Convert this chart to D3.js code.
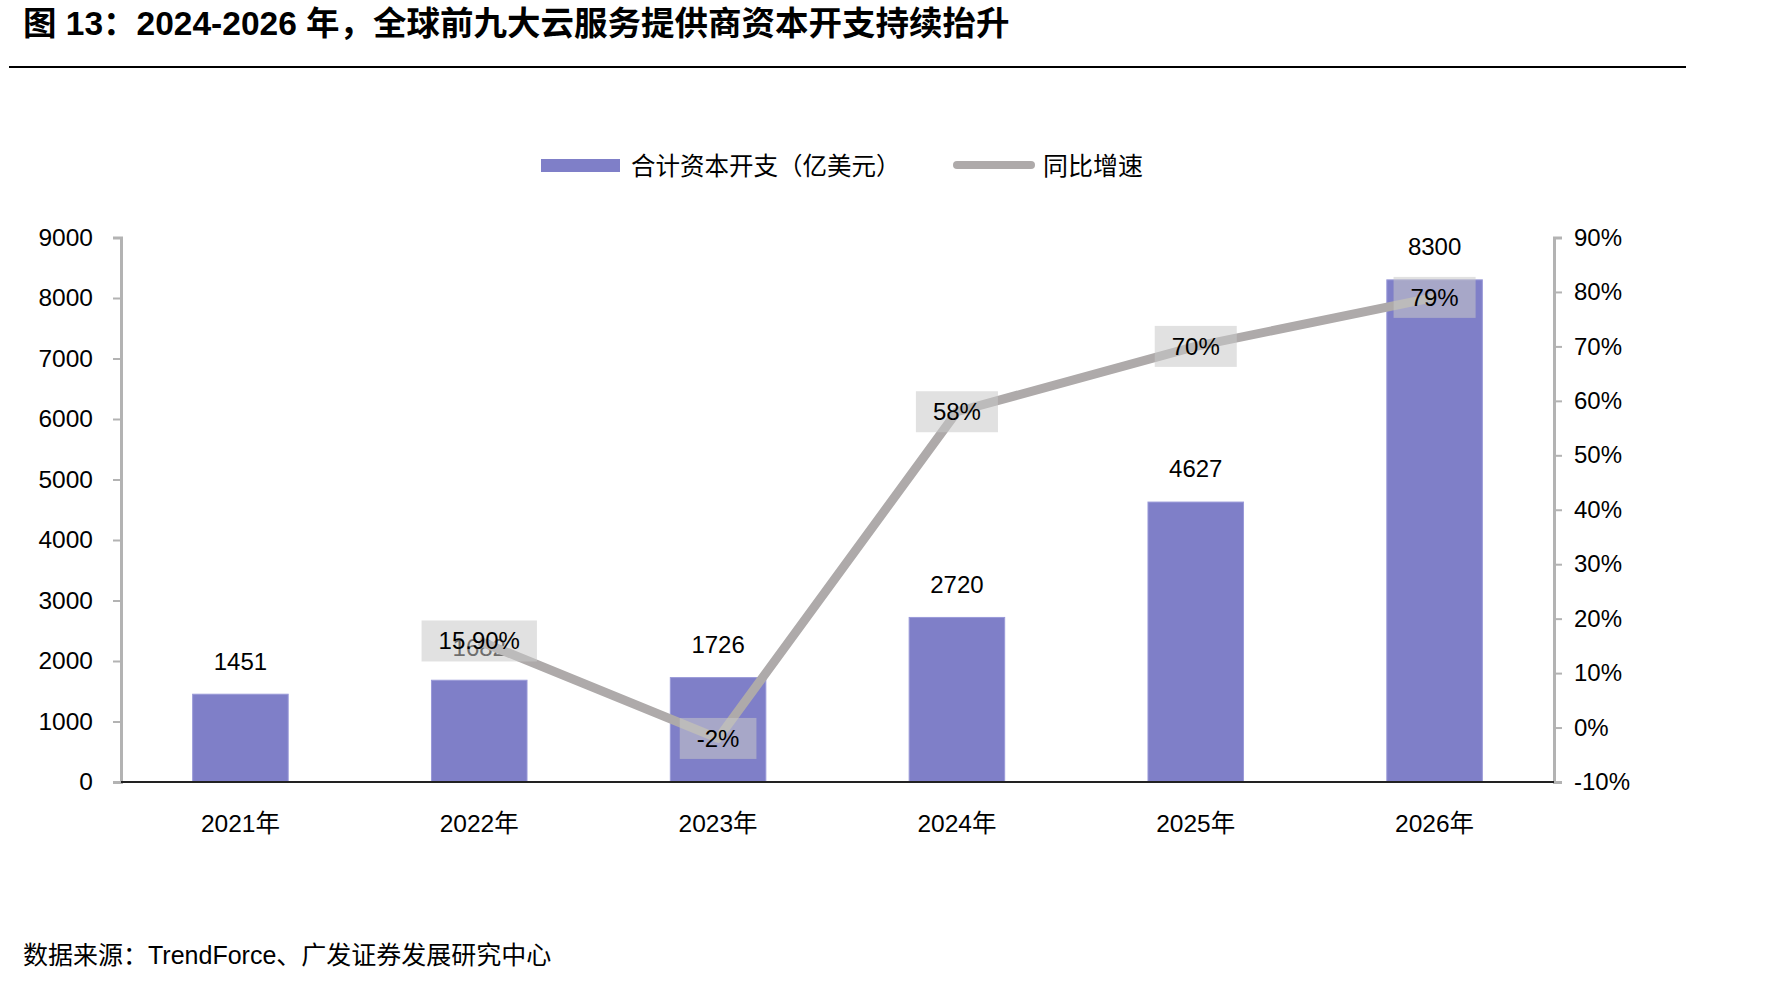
<!DOCTYPE html>
<html>
<head>
<meta charset="utf-8">
<script src="https://cdn.jsdelivr.net/npm/d3@7"></script>
<style>
	body { margin: 0; background: #fff; }
	svg text { font-family: "Liberation Sans", "Noto Sans CJK SC", sans-serif; fill: #000; }
</style>
</head>
<body>
<div id="chart"></div>
<script>
// data
var years = ["2021年", "2022年", "2023年", "2024年", "2025年", "2026年"];
var capex = [1451, 1682, 1726, 2720, 4627, 8300];
var growthYears = ["2022年", "2023年", "2024年", "2025年", "2026年"];
var growth = [0.159, -0.02, 0.58, 0.70, 0.79];
var growthLabels = ["15.90%", "-2%", "58%", "70%", "79%"];
var leftTicks = [0, 1000, 2000, 3000, 4000, 5000, 6000, 7000, 8000, 9000];
var rightTicks = [-0.1, 0, 0.1, 0.2, 0.3, 0.4, 0.5, 0.6, 0.7, 0.8, 0.9];

function draw_chart() {
	var w = 1790;
	var h = 985;
	var barColor = "#7f7fc8";
	var lineColor = "#aeaaaa";
	var axisColor = "#b3b3b3";

	var svg = d3.select("#chart")
				.append("svg")
				.attr("width", w)
				.attr("height", h);

	// title + rule
	svg.append("text")
		.attr("x", 23)
		.attr("y", 35)
		.attr("font-size", 33.5)
		.attr("font-weight", "bold")
		.text("图 13：2024-2026 年，全球前九大云服务提供商资本开支持续抬升");
	svg.append("line")
		.attr("x1", 9).attr("x2", 1686)
		.attr("y1", 67).attr("y2", 67)
		.attr("stroke", "#000")
		.attr("stroke-width", 2);

	var pLeft = 121, pRight = 1554, pTop = 237.5, pBottom = 782;

	var x = d3.scaleBand()
			  .domain(years)
			  .range([pLeft, pRight])
			  .paddingInner(0.6)
			  .paddingOuter(0.3);
	var y = d3.scaleLinear()
			  .domain([0, 9000])
			  .range([pBottom, pTop]);
	var y2 = d3.scaleLinear()
			   .domain([-0.1, 0.9])
			   .range([pBottom, pTop]);

	// left axis
	var yAxis = d3.axisLeft(y).tickValues(leftTicks).tickSize(8).tickPadding(20)
				  .tickFormat(d3.format("d"));
	var gy = svg.append("g")
		.attr("transform", "translate(" + pLeft + ",0)")
		.call(yAxis);
	gy.select(".domain").attr("stroke", axisColor).attr("stroke-width", 3);
	gy.selectAll(".tick line").attr("stroke", axisColor).attr("stroke-width", 2);
	gy.selectAll(".tick text").attr("font-size", 24.5).attr("fill", "#000");

	// right axis
	var yAxis2 = d3.axisRight(y2).tickValues(rightTicks).tickSize(8).tickPadding(12)
				   .tickFormat(d => Math.round(d * 100) + "%");
	var gy2 = svg.append("g")
		.attr("transform", "translate(" + pRight + ",0)")
		.call(yAxis2);
	gy2.select(".domain").attr("stroke", axisColor).attr("stroke-width", 3);
	gy2.selectAll(".tick line").attr("stroke", axisColor).attr("stroke-width", 2);
	gy2.selectAll(".tick text").attr("font-size", 24).attr("fill", "#000");

	// bars
	svg.selectAll("rect.bar")
		.data(capex)
		.enter()
		.append("rect")
		.attr("class", "bar")
		.attr("x", (d, i) => x(years[i]))
		.attr("width", x.bandwidth())
		.attr("y", d => y(d))
		.attr("height", d => pBottom - y(d))
		.attr("fill", barColor)
		.attr("stroke", "#9a9ad8")
		.attr("stroke-width", 1);

	svg.selectAll("text.barlabel")
		.data(capex)
		.enter()
		.append("text")
		.attr("class", "barlabel")
		.attr("x", (d, i) => x(years[i]) + x.bandwidth() / 2)
		.attr("y", d => y(d) - 33)
		.attr("dy", "0.35em")
		.attr("text-anchor", "middle")
		.attr("font-size", 24)
		.text(d => d);

	// x axis baseline + labels
	svg.append("line")
		.attr("x1", pLeft).attr("x2", pRight)
		.attr("y1", pBottom).attr("y2", pBottom)
		.attr("stroke", "#222")
		.attr("stroke-width", 2);
	svg.selectAll("text.xlabel")
		.data(years)
		.enter()
		.append("text")
		.attr("class", "xlabel")
		.attr("x", d => x(d) + x.bandwidth() / 2)
		.attr("y", 823)
		.attr("dy", "0.35em")
		.attr("text-anchor", "middle")
		.attr("font-size", 24.5)
		.text(d => d);

	// growth line
	var line = d3.line()
				 .x((d, i) => x(growthYears[i]) + x.bandwidth() / 2)
				 .y(d => y2(d));
	svg.append("path")
		.datum(growth)
		.attr("d", line)
		.attr("fill", "none")
		.attr("stroke", lineColor)
		.attr("stroke-width", 9)
		.attr("stroke-linejoin", "round");

	// growth labels in boxes
	var glab = svg.selectAll("g.glab")
		.data(growth)
		.enter()
		.append("g")
		.attr("class", "glab")
		.attr("transform", (d, i) => "translate(" + (x(growthYears[i]) + x.bandwidth() / 2) + "," + y2(d) + ")");
	glab.append("text")
		.attr("text-anchor", "middle")
		.attr("dy", "0.35em")
		.attr("font-size", 24)
		.text((d, i) => growthLabels[i])
		.each(function () {
			var bb = this.getBBox();
			d3.select(this.parentNode).insert("rect", "text")
				.attr("x", bb.x - 17)
				.attr("y", -20.5)
				.attr("width", bb.width + 34)
				.attr("height", 41)
				.attr("fill", "rgb(200,200,200)")
				.attr("fill-opacity", 0.55);
		});

	// legend
	svg.append("rect")
		.attr("x", 541).attr("y", 159)
		.attr("width", 79).attr("height", 13)
		.attr("fill", barColor);
	svg.append("text")
		.attr("x", 631).attr("y", 166)
		.attr("dy", "0.35em")
		.attr("font-size", 24.5)
		.text("合计资本开支（亿美元）");
	svg.append("line")
		.attr("x1", 957).attr("x2", 1031)
		.attr("y1", 165).attr("y2", 165)
		.attr("stroke", lineColor)
		.attr("stroke-width", 8)
		.attr("stroke-linecap", "round");
	svg.append("text")
		.attr("x", 1043).attr("y", 166)
		.attr("dy", "0.35em")
		.attr("font-size", 25)
		.text("同比增速");

	// source
	svg.append("text")
		.attr("x", 23).attr("y", 955)
		.attr("dy", "0.35em")
		.attr("font-size", 25)
		.text("数据来源：TrendForce、广发证券发展研究中心");
}

draw_chart();
</script>
</body>
</html>
